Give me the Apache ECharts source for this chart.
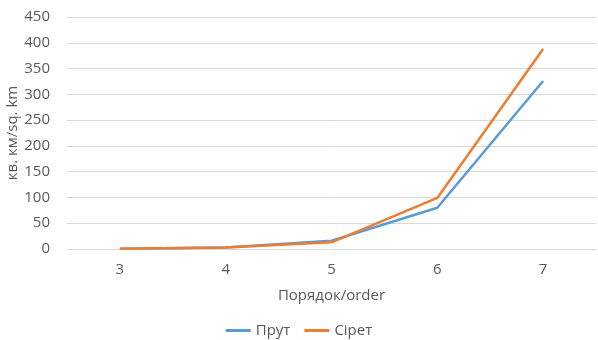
<!DOCTYPE html>
<html>
<head>
<meta charset="utf-8">
<script src="https://cdn.jsdelivr.net/npm/echarts@6/dist/echarts.min.js"></script>
<style>
html,body{margin:0;padding:0;background:#fff;}
#chart{width:598px;height:340px;}
</style>
</head>
<body>
<div id="chart"></div>
<script>
// Stream order categories and catchment area per order (sq. km)
const orders = ['3', '4', '5', '6', '7'];
const prutValues = [0.5, 3, 16, 80, 326];
const siretValues = [0.5, 3, 13, 99, 388];
const yTicks = { min: 0, max: 450, interval: 50 };

const FONT = '"Open Sans", "Noto Sans", sans-serif';
const TEXT = '#595959';

const chart = echarts.init(document.getElementById('chart'), null, { renderer: 'canvas' });
chart.setOption({
  animation: false,
  textStyle: { fontFamily: FONT },
  grid: { left: 67, right: 2, top: 17, bottom: 91, containLabel: false, outerBoundsMode: 'none' },
  legend: {
    top: 318,
    left: 'center',
    itemWidth: 25,
    itemHeight: 3,
    itemGap: 14,
    icon: 'rect',
    textStyle: { color: TEXT, fontSize: 15, fontFamily: FONT },
    data: ['Прут', 'Сірет']
  },
  xAxis: {
    type: 'category',
    data: orders,
    boundaryGap: true,
    name: 'Порядок/order',
    nameLocation: 'middle',
    nameGap: 39,
    nameMoveOverlap: false,
    nameTextStyle: { color: TEXT, fontSize: 15, fontFamily: FONT },
    axisLine: { show: true, lineStyle: { color: '#D9D9D9' } },
    axisTick: { show: false },
    axisLabel: { color: TEXT, fontSize: 15, margin: 13, fontFamily: FONT }
  },
  yAxis: {
    type: 'value',
    min: yTicks.min,
    max: yTicks.max,
    interval: yTicks.interval,
    name: 'кв. км/sq. km',
    nameLocation: 'middle',
    nameGap: 47,
    nameMoveOverlap: false,
    nameTextStyle: { color: TEXT, fontSize: 15, fontFamily: FONT },
    axisLine: { show: false },
    axisTick: { show: false },
    axisLabel: { color: TEXT, fontSize: 15, margin: 17, fontFamily: FONT },
    splitLine: { lineStyle: { color: '#D9D9D9', width: 1 } }
  },
  series: [
    {
      name: 'Прут',
      type: 'line',
      data: prutValues,
      symbol: 'none',
      lineStyle: { color: '#5B9BD5', width: 2.5 },
      itemStyle: { color: '#5B9BD5' }
    },
    {
      name: 'Сірет',
      type: 'line',
      data: siretValues,
      symbol: 'none',
      lineStyle: { color: '#ED7D31', width: 2.5 },
      itemStyle: { color: '#ED7D31' }
    }
  ]
});
</script>
</body>
</html>
